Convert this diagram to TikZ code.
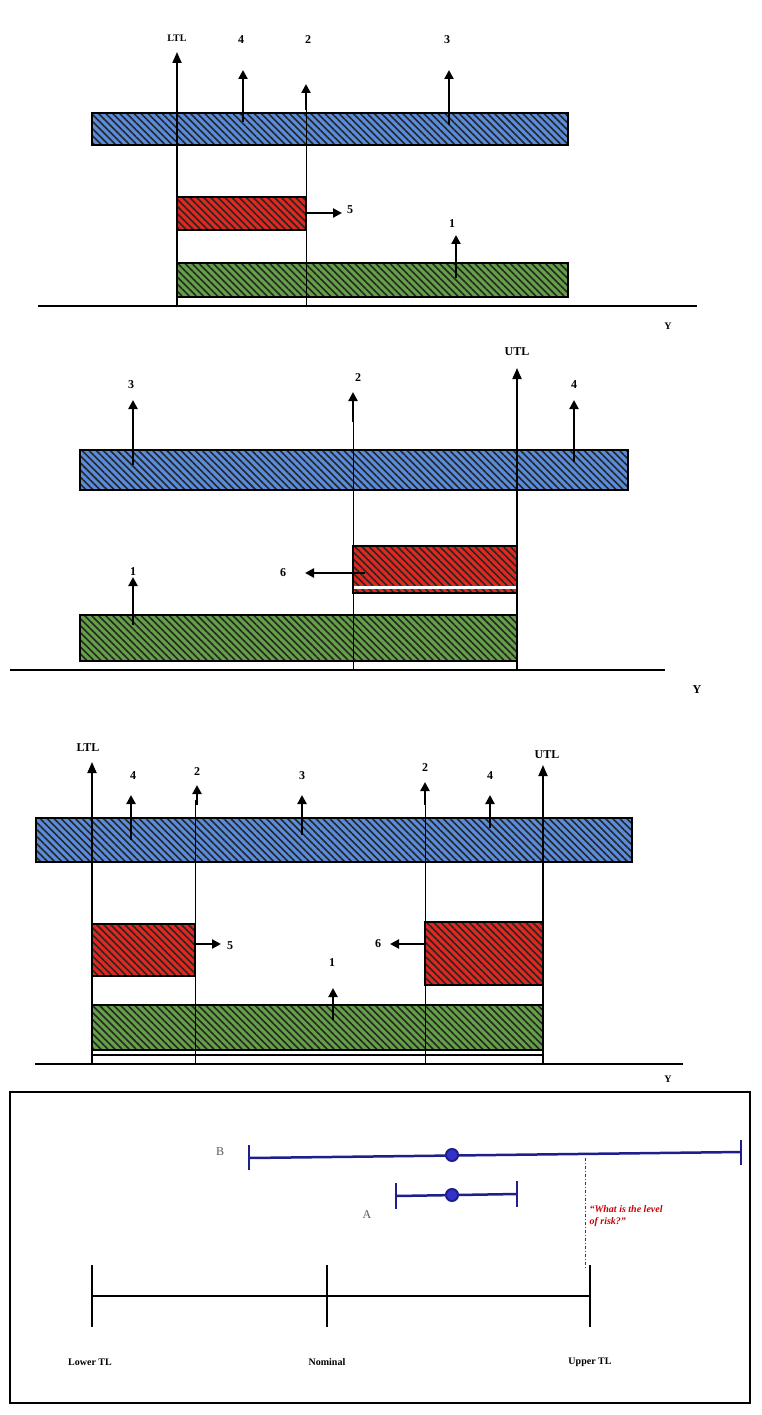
\documentclass[tikz,border=0pt]{standalone}
\usepackage{fontspec}
\setmainfont{Liberation Serif}
\usetikzlibrary{arrows.meta,patterns.meta}

\tikzset{
  hatch/.style={pattern={Lines[angle=-45,distance=5pt,line width=1.6pt]}, pattern color=black!85},
  up/.style={line width=2.6pt, -{Triangle[width=9pt,length=9pt]}},
  limit/.style={line width=1.8pt, -{Triangle[width=9pt,length=11pt]}},
  guide/.style={line width=0.8pt},
  axis/.style={line width=1.2pt},
  lbl/.style={font=\bfseries\large},
  lblsm/.style={font=\bfseries\normalsize},
}

\newcommand{\hatchbar}[5]{% color, x1,y1,x2,y2
  \fill[#1] (#2,#3) rectangle (#4,#5);
  \fill[hatch] (#2,#3) rectangle (#4,#5);
  \draw[line width=1.5pt] (#2,#3) rectangle (#4,#5);}

\definecolor{barblue}{RGB}{90,140,220}
\definecolor{barred}{RGB}{225,40,30}
\definecolor{bargreen}{RGB}{100,160,70}
\definecolor{ivblue}{RGB}{30,30,140}

\begin{document}
\begin{tikzpicture}[x=1pt,y=-1pt]
  \useasboundingbox (0,0) rectangle (761,1415);

  % panel 1
  \hatchbar{barblue}{92}{113}{568}{145}
  \hatchbar{barred}{177}{197}{306}{230}
  \hatchbar{bargreen}{177}{263}{568}{297}
  \draw[axis] (38,306) -- (697,306);
  \node[lblsm] (y1) at (668,326) {Y};
  \draw[limit] (177,306) -- (177,52);
  \node[lblsm] (ltl1) at (177,38) {LTL};
  \draw[guide] (306,306) -- (306,110);
  \draw[up] (306,110) -- (306,84);
  \node[lbl] (p1n2) at (308,40) {2};
  \draw[up] (243,122) -- (243,70);
  \node[lbl] (p1n4) at (241,40) {4};
  \draw[up] (449,125) -- (449,70);
  \node[lbl] (p1n3) at (447,40) {3};
  \draw[up] (306,213) -- (342,213);
  \node[lbl] (p1n5) at (350,210) {5};
  \draw[up] (456,278) -- (456,235);
  \node[lbl] (p1n1) at (452,224) {1};

  % panel 2
  \hatchbar{barblue}{80}{450}{628}{490}
  \hatchbar{barred}{353}{546}{517}{593}
  \fill[white] (354,586) rectangle (516,589);
  \hatchbar{bargreen}{80}{615}{517}{661}
  \draw[axis] (10,670) -- (665,670);
  \node[lbl] (y2) at (697,690) {Y};
  \draw[limit] (517,670) -- (517,368);
  \node[lbl] (utl2) at (517,352) {UTL};
  \draw[guide] (353,670) -- (353,420);
  \draw[up] (353,422) -- (353,392);
  \node[lbl] (p2n2) at (358,378) {2};
  \draw[up] (133,465) -- (133,400);
  \node[lbl] (p2n3) at (131,385) {3};
  \draw[up] (574,462) -- (574,400);
  \node[lbl] (p2n4) at (574,385) {4};
  \draw[up] (133,625) -- (133,577);
  \node[lbl] (p2n1) at (133,572) {1};
  \draw[up] (365,573) -- (305,573);
  \node[lbl] (p2n6) at (283,573) {6};

  % panel 3
  \hatchbar{barblue}{36}{818}{632}{862}
  \hatchbar{barred}{92}{924}{195}{976}
  \hatchbar{barred}{425}{922}{543}{985}
  \hatchbar{bargreen}{92}{1005}{543}{1050}
  \draw[line width=1.2pt] (92,1055) -- (543,1055);
  \draw[axis] (35,1064) -- (683,1064);
  \node[lblsm] (y3) at (668,1079) {Y};
  \draw[limit] (92,1064) -- (92,762);
  \node[lbl] (ltl3) at (88,748) {LTL};
  \draw[limit] (543,1064) -- (543,765);
  \node[lbl] (utl3) at (547,755) {UTL};
  \draw[guide] (195,1064) -- (195,800);
  \draw[up] (197,805) -- (197,785);
  \node[lbl] (p3n2a) at (197,772) {2};
  \draw[guide] (425,1064) -- (425,800);
  \draw[up] (425,805) -- (425,782);
  \node[lbl] (p3n2b) at (425,768) {2};
  \draw[up] (131,840) -- (131,795);
  \node[lbl] (p3n4a) at (133,776) {4};
  \draw[up] (302,835) -- (302,795);
  \node[lbl] (p3n3) at (302,776) {3};
  \draw[up] (490,828) -- (490,795);
  \node[lbl] (p3n4b) at (490,776) {4};
  \draw[up] (195,944) -- (221,944);
  \node[lbl] (p3n5) at (230,946) {5};
  \draw[up] (425,944) -- (390,944);
  \node[lbl] (p3n6) at (378,944) {6};
  \draw[up] (333,1020) -- (333,988);
  \node[lbl] (p3n1) at (332,963) {1};

  % panel 4
  \draw[line width=2pt] (10,1092) rectangle (750,1403);
  \draw[ivblue, line width=2.5pt] (249,1158) -- (741,1152);
  \draw[ivblue, line width=2.5pt] (249,1145) -- (249,1170) (741,1140) -- (741,1165);
  \draw[ivblue, line width=2pt, fill=blue!60!gray] (452,1155) circle (6);
  \node[gray!70!black, font=\large] (labB) at (220,1152) {B};
  \draw[ivblue, line width=2.5pt] (396,1196) -- (517,1194);
  \draw[ivblue, line width=2.5pt] (396,1183) -- (396,1209) (517,1181) -- (517,1207);
  \draw[ivblue, line width=2pt, fill=blue!60!gray] (452,1195) circle (6);
  \node[gray!70!black, font=\large] (labA) at (367,1215) {A};
  \draw[red!80!black, line width=1pt, dash dot] (585,1158) -- (585,1270);
  \node[red!80!black, font=\bfseries\itshape, align=left, anchor=west] (q) at (586,1216)
    {“What is the level\\of risk?”};
  \draw[line width=1.5pt] (92,1296) -- (590,1296);
  \foreach \x in {92,327,590} \draw[line width=1.5pt] (\x,1265) -- (\x,1327);
  \node[lblsm] (ltl4) at (90,1362) {Lower TL};
  \node[lblsm] (nom4) at (327,1362) {Nominal};
  \node[lblsm] (utl4) at (590,1362) {Upper TL};
\end{tikzpicture}
\end{document}
